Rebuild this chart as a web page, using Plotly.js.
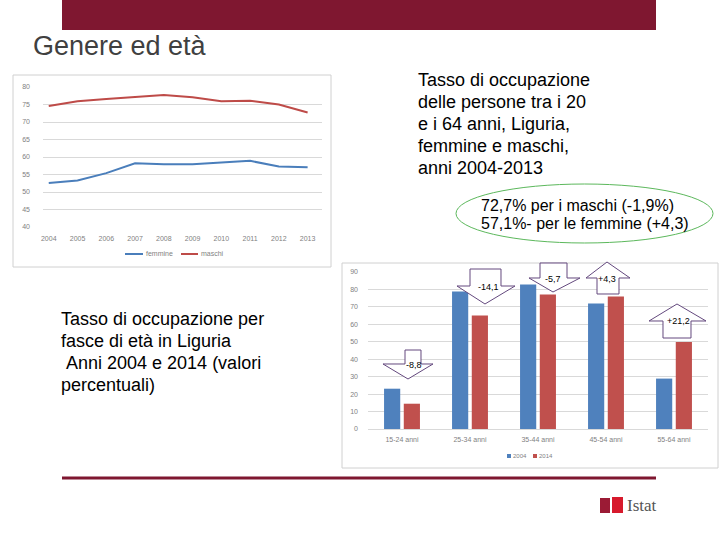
<!DOCTYPE html>
<html>
<head>
<meta charset="utf-8">
<script src="https://cdn.plot.ly/plotly-3.0.1.min.js"></script>
<style>
  html, body { margin: 0; padding: 0; background: #fff; }
  #slide { width: 720px; height: 540px; }
</style>
</head>
<body>
<div id="slide"></div>
<script>
// Tasso di occupazione 20-64 anni, Liguria
const years = [2004, 2005, 2006, 2007, 2008, 2009, 2010, 2011, 2012, 2013];
const femmine = [52.6, 53.3, 55.4, 58.2, 57.9, 57.9, 58.4, 58.9, 57.3, 57.1];
const maschi = [74.6, 75.9, 76.6, 77.2, 77.7, 77.1, 75.9, 76.1, 75.0, 72.7];

// Tasso di occupazione per fasce di età, 2004 e 2014
const ageGroups = ['15-24 anni', '25-34 anni', '35-44 anni', '45-54 anni', '55-64 anni'];
const occ2004 = [23.1, 78.8, 82.8, 71.9, 28.9];
const occ2014 = [14.5, 65.0, 77.1, 75.9, 49.9];
const changeLabels = ['-8,8', '-14,1', '-5,7', '+4,3', '+21,2'];

const W = 720, H = 540;
const FONT = 'Liberation Sans, Arial, sans-serif';
const C_F = '#4a7ebb', C_M = '#be4b48';
const C_04 = '#4f81bd', C_14 = '#c0504d';
const px = (x) => x / W;
const py = (y) => 1 - y / H;

// slide decorations (pixel boxes)
const shapes = [
  { type: 'rect', xref: 'paper', yref: 'paper', x0: px(62), x1: px(656), y0: py(0), y1: py(30),
    fillcolor: '#7f1730', line: { width: 0 }, layer: 'below' },
  { type: 'line', xref: 'paper', yref: 'paper', x0: px(62), x1: px(656), y0: py(478), y1: py(478),
    line: { color: '#7f1730', width: 3 } },
  // chart frames
  { type: 'rect', xref: 'paper', yref: 'paper', x0: px(13), x1: px(331), y0: py(75), y1: py(267),
    line: { color: '#d0d0d0', width: 1 }, layer: 'below' },
  { type: 'rect', xref: 'paper', yref: 'paper', x0: px(342), x1: px(718), y0: py(263), y1: py(468),
    line: { color: '#d0d0d0', width: 1 }, layer: 'below' },
  // green ellipse
  { type: 'circle', xref: 'paper', yref: 'paper', x0: px(456), x1: px(713), y0: py(184), y1: py(243),
    line: { color: '#5cb85c', width: 1 } },
  // Istat logo blocks
  { type: 'rect', xref: 'paper', yref: 'paper', x0: px(600), x1: px(610), y0: py(498), y1: py(513),
    fillcolor: '#9b1b35', line: { width: 0 } },
  { type: 'rect', xref: 'paper', yref: 'paper', x0: px(612), x1: px(623), y0: py(497), y1: py(513),
    fillcolor: '#d71a2c', line: { width: 0 } },
  // legend keys (line chart)
  { type: 'line', xref: 'paper', yref: 'paper', x0: px(125), x1: px(143), y0: py(254), y1: py(254),
    line: { color: C_F, width: 2 } },
  { type: 'line', xref: 'paper', yref: 'paper', x0: px(181), x1: px(198), y0: py(254), y1: py(254),
    line: { color: C_M, width: 2 } },
  // legend keys (bar chart)
  { type: 'rect', xref: 'paper', yref: 'paper', x0: px(507), x1: px(511), y0: py(458), y1: py(454),
    fillcolor: C_04, line: { width: 0 } },
  { type: 'rect', xref: 'paper', yref: 'paper', x0: px(533), x1: px(537), y0: py(458), y1: py(454),
    fillcolor: C_14, line: { width: 0 } },
];

// block arrows around the bars: [shaftL, shaftR, end, headY, headL, headR, tipX, tipY, labelX, labelY]
const arrowGeom = [
  [405, 421, 350, 364, 383, 433, 408, 379, 414, 365],
  [470, 501, 269, 286, 457, 515, 485, 304, 488, 287],
  [540, 567, 263, 278, 529, 580, 553, 292, 553, 279],
  [597, 619, 294, 278, 586, 630, 607, 262, 607, 279],
  [663, 691, 338, 321, 649, 706, 677, 304, 678, 321],
];
arrowGeom.forEach((g) => {
  const [sl, sr, e, hy, hl, hr, tx, ty] = g;
  const pts = [[sl, e], [sr, e], [sr, hy], [hr, hy], [tx, ty], [hl, hy], [sl, hy]];
  const d = 'M' + pts.map((p) => px(p[0]).toFixed(5) + ',' + py(p[1]).toFixed(5)).join(' L') + ' Z';
  shapes.push({ type: 'path', xref: 'paper', yref: 'paper', path: d,
    fillcolor: '#ffffff', line: { color: '#64497e', width: 1 } });
});

const annotations = [];
function text(t, x, y, size, opts) {
  annotations.push(Object.assign({
    text: t, xref: 'paper', yref: 'paper', x: px(x), y: py(y), showarrow: false,
    xanchor: 'left', yanchor: 'middle', font: { family: FONT, size: size, color: '#000' },
  }, opts || {}));
}

text('Genere ed età', 31, 46, 27, { font: { family: FONT, size: 27, color: '#404040' } });

['Tasso di occupazione', 'delle persone tra i 20', 'e i 64 anni, Liguria,', 'femmine e maschi,', 'anni 2004-2013']
  .forEach((l, i) => text(l, 416, 80 + i * 22, 18));

['Tasso di occupazione per', 'fasce di età in Liguria', '&nbsp;Anni 2004 e 2014 (valori', 'percentuali)']
  .forEach((l, i) => text(l, 59, 319 + i * 22, 18));

text('72,7% per i maschi (-1,9%)', 479, 205, 16);
text('57,1%- per le femmine (+4,3)', 479, 223, 16);

changeLabels.forEach((l, i) => {
  const g = arrowGeom[i];
  text(l, g[8], g[9], 9, { xanchor: 'center' });
});

const legFont = { family: FONT, size: 7, color: '#7f7f7f' };
text('femmine', 144, 254, 7, { font: legFont });
text('maschi', 199, 254, 7, { font: legFont });
text('2004', 511, 456, 6, { font: Object.assign({}, legFont, { size: 6 }) });
text('2014', 537, 456, 6, { font: Object.assign({}, legFont, { size: 6 }) });

text('Istat', 625, 505, 17, { font: { family: 'Liberation Serif, serif', size: 17, color: '#555' } });

const traces = [
  { x: years, y: femmine, type: 'scatter', mode: 'lines', name: 'femmine',
    line: { color: C_F, width: 2 }, xaxis: 'x', yaxis: 'y' },
  { x: years, y: maschi, type: 'scatter', mode: 'lines', name: 'maschi',
    line: { color: C_M, width: 2 }, xaxis: 'x', yaxis: 'y' },
  { x: ageGroups, y: occ2004, type: 'bar', name: '2004', marker: { color: C_04 },
    xaxis: 'x2', yaxis: 'y2' },
  { x: ageGroups, y: occ2014, type: 'bar', name: '2014', marker: { color: C_14 },
    xaxis: 'x2', yaxis: 'y2' },
];

const tickFont = { family: FONT, size: 7, color: '#7f7f7f' };

const layout = {
  width: W,
  height: H,
  margin: { l: 0, r: 0, t: 0, b: 0 },
  paper_bgcolor: '#fff',
  plot_bgcolor: 'rgba(0,0,0,0)',
  font: { family: FONT },
  showlegend: false,
  barmode: 'group',
  bargap: 0.42,
  bargroupgap: 0.18,
  xaxis: {
    domain: [px(43), px(322)], anchor: 'y', range: [2003.8, 2013.5],
    tickvals: years, showgrid: false, zeroline: false, showline: false, ticks: '',
    tickfont: tickFont, ticklabelstandoff: 6,
  },
  yaxis: {
    domain: [py(227), py(87)], anchor: 'x', range: [40, 80], dtick: 5,
    gridcolor: '#d9d9d9', gridwidth: 1, zeroline: false, ticks: '',
    tickfont: tickFont, ticklabelstandoff: 12,
  },
  xaxis2: {
    domain: [px(368), px(708)], anchor: 'y2', type: 'category',
    showgrid: false, zeroline: false, showline: true, linecolor: '#d9d9d9', ticks: '',
    tickfont: tickFont, ticklabelstandoff: 4,
  },
  yaxis2: {
    domain: [py(429), py(272)], anchor: 'x2', range: [0, 90], dtick: 10,
    gridcolor: '#d9d9d9', gridwidth: 1, zeroline: false, ticks: '',
    tickfont: tickFont, ticklabelstandoff: 9,
  },
  shapes: shapes,
  annotations: annotations,
};

Plotly.newPlot('slide', traces, layout, { displayModeBar: false, staticPlot: true });
</script>
</body>
</html>
